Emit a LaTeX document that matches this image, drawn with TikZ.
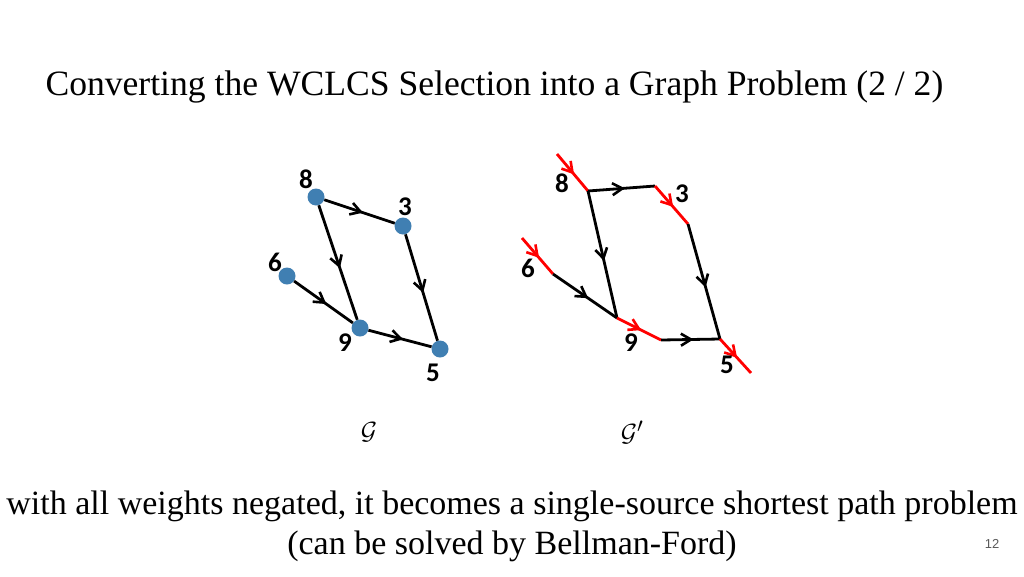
\documentclass[tikz,border=0pt]{standalone}
\usepackage{fontspec}
\setmainfont{Liberation Serif}
\newfontfamily\lblfont{Carlito}
\newfontfamily\pgfont{Liberation Sans}
\usetikzlibrary{decorations.markings,arrows.meta}
\begin{document}
\begin{tikzpicture}[x=1pt,y=-1pt,
  mid/.style={decoration={markings,mark=at position 0.55 with {\arrow{Straight Barb[length=10pt,width=12pt,line width=2.6pt]}}},postaction={decorate}},
  edge/.style={line width=2.8pt,black,mid},
  redge/.style={line width=2.8pt,red,mid},
  vert/.style={circle,fill=blue!45!cyan!60!black!75,minimum size=17pt,inner sep=0pt},
  lbl/.style={font=\lblfont\bfseries\fontsize{27}{30}\selectfont}]
\useasboundingbox (0,0) rectangle (1024,576);
\node[anchor=west,font=\fontsize{35.6}{40}\selectfont] (title) at (42,87) {Converting the WCLCS Selection into a Graph Problem (2 / 2)};
% G
\node[vert] (a8) at (316,197) {};
\node[vert] (a3) at (403,226) {};
\node[vert] (a6) at (287,276) {};
\node[vert] (a9) at (360,328) {};
\node[vert] (a5) at (440,349) {};
\draw[edge] (a8) -- (a3);
\draw[edge] (a8) -- (a9);
\draw[edge] (a6) -- (a9);
\draw[edge] (a3) -- (a5);
\draw[edge] (a9) -- (a5);
\node[lbl] (l8) at (306,179) {8};
\node[lbl] (l3) at (405,207) {3};
\node[lbl] (l6) at (275,262) {6};
\node[lbl] (l9) at (345,343) {9};
\node[lbl] (l5) at (433,373) {5};
\node[font=\fontsize{30}{34}\selectfont] (gG) at (369,432) {$\mathcal{G}$};
% G'
\coordinate (s8) at (557,154);
\coordinate (b8) at (588,191);
\coordinate (c3a) at (655,186);
\coordinate (c3b) at (688,224);
\coordinate (s6) at (522,238);
\coordinate (b6) at (553,274);
\coordinate (b9a) at (617,318);
\coordinate (b9b) at (661,340);
\coordinate (b5a) at (720,339);
\coordinate (e5) at (751,373);
\draw[redge] (s8) -- (b8);
\draw[edge] (b8) -- (c3a);
\draw[redge] (c3a) -- (c3b);
\draw[edge] (c3b) -- (b5a);
\draw[edge] (b8) -- (b9a);
\draw[redge] (s6) -- (b6);
\draw[edge] (b6) -- (b9a);
\draw[redge] (b9a) -- (b9b);
\draw[edge] (b9b) -- (b5a);
\draw[redge] (b5a) -- (e5);
\node[lbl] (m8) at (562,183) {8};
\node[lbl] (m3) at (682,194) {3};
\node[lbl] (m6) at (528,268) {6};
\node[lbl] (m9) at (631,343) {9};
\node[lbl] (m5) at (727,365) {5};
\node[font=\fontsize{30}{34}\selectfont] (gH) at (632,432) {$\mathcal{G}'$};
\node[font=\fontsize{34}{38}\selectfont] (t1) at (512,506) {with all weights negated, it becomes a single-source shortest path problem};
\node[font=\fontsize{34}{38}\selectfont] (t2) at (512,546) {(can be solved by Bellman-Ford)};
\node[font=\pgfont\fontsize{13}{15}\selectfont,text=gray!70!black] (pg) at (992,544) {12};
\end{tikzpicture}
\end{document}
